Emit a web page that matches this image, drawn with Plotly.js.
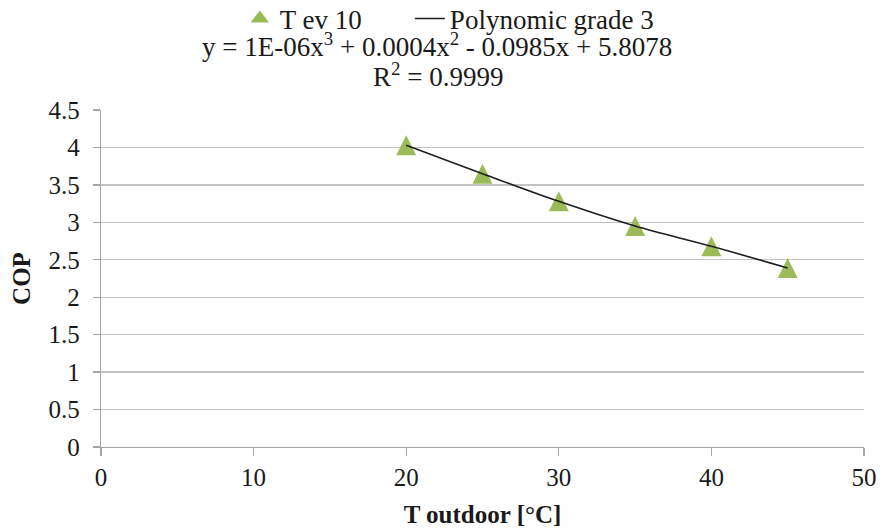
<!DOCTYPE html>
<html>
<head>
<meta charset="utf-8">
<script src="https://cdn.plot.ly/plotly-3.0.1.min.js"></script>
<style>
  html, body { margin: 0; padding: 0; background: #ffffff; }
  #chart { width: 880px; height: 531px; }
</style>
</head>
<body>
<div id="chart"></div>
<script>
// Measured COP of the heat pump at evaporator temperature 10 °C
const tOutdoor = [20, 25, 30, 35, 40, 45];
const cop = [4.03, 3.65, 3.28, 2.95, 2.68, 2.39];

const seriesName = 'T ev 10';
const trendName = 'Polynomic grade 3';
const equationText = 'y = 1E-06x<sup>3</sup> + 0.0004x<sup>2</sup> - 0.0985x + 5.8078';
const r2Text = 'R<sup>2</sup> = 0.9999';

const xTickVals = [0, 10, 20, 30, 40, 50];
const yTickVals = [0, 0.5, 1, 1.5, 2, 2.5, 3, 3.5, 4, 4.5];
const yTickText = ['0', '0.5', '1', '1.5', '2', '2.5', '3', '3.5', '4', '4.5'];

const serif = '"Liberation Serif", "Times New Roman", serif';
const green = '#9bbb59';
const axisGrey = '#a6a6a6';
const gridGrey = '#c3c3c3';

// legend entry for the measured series (the plotted markers below are
// upright arrows, which the legend would draw off-centre)
const legendKey = {
  type: 'scatter',
  mode: 'markers',
  name: seriesName,
  legendgroup: 'tev10',
  legendwidth: 125,
  x: [null],
  y: [null],
  marker: { symbol: 'triangle-up', size: 16, color: green, line: { width: 0 } },
  hoverinfo: 'skip'
};

// arrow-down turned upright and pushed back by half its height gives a
// triangle as tall as it is wide, centred on the point
const points = {
  type: 'scatter',
  mode: 'markers',
  name: seriesName,
  legendgroup: 'tev10',
  showlegend: false,
  x: tOutdoor,
  y: cop,
  marker: { symbol: 'arrow-down', angle: 180, size: 20, standoff: 10, color: green, line: { width: 0 } },
  hoverinfo: 'x+y'
};

// third-order trend through the measured points
const trend = {
  type: 'scatter',
  mode: 'lines',
  name: trendName,
  x: tOutdoor,
  y: cop,
  line: { color: '#1e1e1e', width: 1.6, shape: 'spline', smoothing: 1 },
  hoverinfo: 'skip'
};

const layout = {
  width: 880,
  height: 531,
  paper_bgcolor: '#ffffff',
  plot_bgcolor: '#ffffff',
  font: { family: serif, color: '#1a1a1a', size: 25 },
  margin: { l: 101, r: 16, t: 110, b: 84, pad: 0, autoexpand: false },
  showlegend: true,
  legend: {
    orientation: 'h',
    x: 0.182, xanchor: 'left',
    y: 1.343, yanchor: 'top',
    font: { family: serif, size: 27, color: '#1a1a1a' },
    bgcolor: 'rgba(0,0,0,0)',
    borderwidth: 0,
    traceorder: 'normal'
  },
  xaxis: {
    range: [0, 50],
    tickmode: 'array',
    tickvals: xTickVals,
    ticks: 'outside',
    ticklen: 8,
    tickwidth: 1.3,
    tickcolor: axisGrey,
    showline: true,
    linecolor: axisGrey,
    linewidth: 1.3,
    showgrid: false,
    zeroline: false,
    tickfont: { family: serif, size: 25, color: '#1a1a1a' },
    title: { text: '<b>T outdoor [°C]</b>', font: { family: serif, size: 25, color: '#1a1a1a' }, standoff: 15 },
    automargin: false,
    fixedrange: true
  },
  yaxis: {
    range: [0, 4.5],
    tickmode: 'array',
    tickvals: yTickVals,
    ticktext: yTickText,
    ticks: 'outside',
    ticklen: 7,
    tickwidth: 1.3,
    tickcolor: axisGrey,
    ticklabelstandoff: 8,
    showline: true,
    linecolor: axisGrey,
    linewidth: 1.3,
    showgrid: true,
    gridcolor: gridGrey,
    gridwidth: 1.4,
    zeroline: false,
    tickfont: { family: serif, size: 25, color: '#1a1a1a' },
    title: { text: '<b>COP</b>', font: { family: serif, size: 25, color: '#1a1a1a' }, standoff: 10 },
    automargin: false,
    fixedrange: true
  },
  annotations: [
    {
      xref: 'paper', yref: 'paper',
      x: 0.44, y: 1.192, xanchor: 'center', yanchor: 'middle',
      text: equationText, showarrow: false,
      font: { family: serif, size: 27, color: '#1a1a1a' }
    },
    {
      xref: 'paper', yref: 'paper',
      x: 0.442, y: 1.104, xanchor: 'center', yanchor: 'middle',
      text: r2Text, showarrow: false,
      font: { family: serif, size: 27, color: '#1a1a1a' }
    }
  ]
};

Plotly.newPlot('chart', [legendKey, points, trend], layout, { displayModeBar: false, staticPlot: true });
</script>
</body>
</html>
